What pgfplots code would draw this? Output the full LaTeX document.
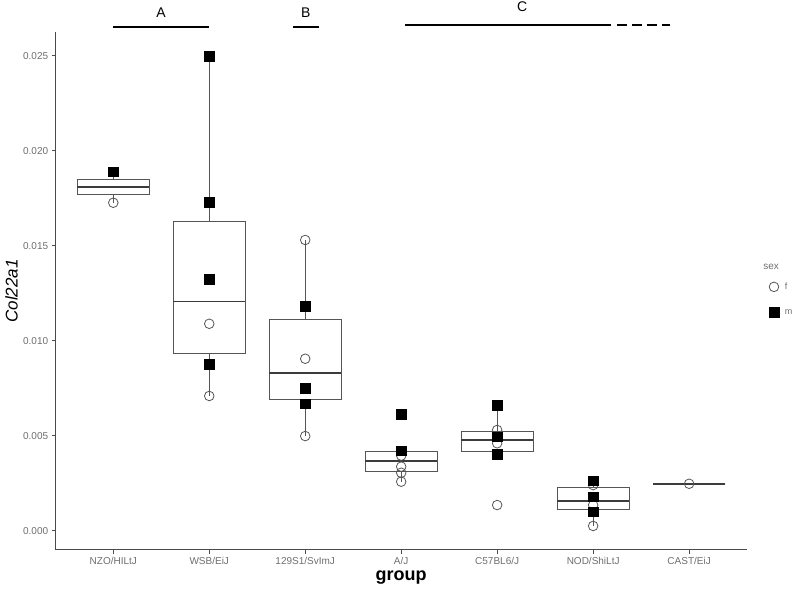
\documentclass[border=0pt]{standalone}
\usepackage{pgfplots}
\pgfplotsset{compat=1.18}
\usepgfplotslibrary{statistics}
\usepackage{fontspec}
\setmainfont{Liberation Sans}
\definecolor{boxc}{HTML}{555555}
\definecolor{tickc}{HTML}{6E6E6E}
\definecolor{axc}{HTML}{4A4A4A}
\begin{document}
\begin{tikzpicture}
\useasboundingbox (0,0) rectangle (800pt,590pt);
\begin{axis}[
  at={(55.7pt,40.5pt)}, anchor=south west,
  scale only axis, width=691pt, height=517pt,
  xmin=-0.6, xmax=6.6, ymin=-0.00099, ymax=0.02622,
  clip=false,
  axis lines*=left, axis line style={-, draw=axc, line width=1pt},
  tick align=outside, major tick length=4pt,
  tick style={draw=axc, line width=0.8pt},
  xtick={0,1,2,3,4,5,6},
  xticklabels={NZO/HILtJ,WSB/EiJ,129S1/SvImJ,A/J,C57BL6/J,NOD/ShiLtJ,CAST/EiJ},
  ytick={0,0.005,0.010,0.015,0.020,0.025},
  yticklabels={0.000,0.005,0.010,0.015,0.020,0.025},
  scaled y ticks=false,
  /pgf/number format/assume math mode=true,
  ticklabel style={font=\fontsize{10}{12}\selectfont, text=tickc},
  xlabel={\textbf{group}}, ylabel={\textit{Col22a1}},
  xlabel style={at={(axis description cs:0.5,-0.054)}, anchor=center, font=\fontsize{18}{20}\selectfont},
  ylabel style={at={(axis description cs:-0.064,0.5)}, anchor=center, font=\fontsize{17}{19}\selectfont},
  boxplot/draw direction=y,
  boxplot/every median/.style={line width=1.8pt, draw=boxc!70!black},
  legend image code/.code={\draw[#1] plot coordinates {(6pt,0pt)}; \path[draw=none,fill=none] (0pt,-5.5pt) rectangle (15pt,5.5pt);},
  legend style={at={(axis description cs:1.0305,0.520)}, anchor=north west, draw=none, fill=none,
    inner xsep=0pt, inner ysep=0pt, row sep=14pt, font=\fontsize{9}{10}\selectfont, text=tickc},
  legend cell align=left,
]
% boxes
\addplot[forget plot, draw=boxc, line width=1pt, boxplot prepared={draw position=0, lower whisker=0.01726, lower quartile=0.01767, median=0.01807, upper quartile=0.01848, upper whisker=0.01889, box extend=0.75, whisker extend=0}] coordinates {};
\addplot[forget plot, draw=boxc, line width=1pt, boxplot prepared={draw position=1, lower whisker=0.00709, lower quartile=0.00930, median=0.01206, upper quartile=0.01628, upper whisker=0.02498, box extend=0.75, whisker extend=0}] coordinates {};
\addplot[forget plot, draw=boxc, line width=1pt, boxplot prepared={draw position=2, lower whisker=0.00498, lower quartile=0.00689, median=0.00828, upper quartile=0.01114, upper whisker=0.01530, box extend=0.75, whisker extend=0}] coordinates {};
\addplot[forget plot, draw=boxc, line width=1pt, boxplot prepared={draw position=3, lower whisker=0.00258, lower quartile=0.00313, median=0.00366, upper quartile=0.00415, upper whisker=0.00421, box extend=0.75, whisker extend=0}] coordinates {};
\addplot[forget plot, draw=boxc, line width=1pt, boxplot prepared={draw position=4, lower whisker=0.00402, lower quartile=0.00417, median=0.004775, upper quartile=0.00521, upper whisker=0.00662, box extend=0.75, whisker extend=0}] coordinates {};
\addplot[forget plot, draw=boxc, line width=1pt, boxplot prepared={draw position=5, lower whisker=0.00025, lower quartile=0.00109, median=0.00157, upper quartile=0.00225, upper whisker=0.00263, box extend=0.75, whisker extend=0}] coordinates {};
\addplot[forget plot, draw=boxc, line width=1pt, boxplot prepared={draw position=6, lower whisker=0.00247, lower quartile=0.00247, median=0.00247, upper quartile=0.00247, upper whisker=0.00247, box extend=0.75, whisker extend=0}] coordinates {};
% points f
\addplot[only marks, mark=o, mark size=4.8pt, mark options={draw=boxc, line width=0.8pt}] table {
x y
0 0.01726
1 0.01089
1 0.00709
2 0.01530
2 0.00905
2 0.00498
3 0.00395
3 0.00337
3 0.00305
3 0.00258
4 0.00530
4 0.00460
4 0.00135
5 0.00240
5 0.00135
5 0.00025
6 0.00247
};
\addlegendentry{f}
% points m
\addplot[only marks, mark=square*, mark size=4.8pt, mark options={draw=black, fill=black}] table {
x y
0 0.01889
1 0.02498
1 0.01730
1 0.01323
1 0.00877
2 0.01183
2 0.00751
2 0.00668
3 0.00613
3 0.00421
4 0.00662
4 0.00495
4 0.00402
5 0.00263
5 0.00179
5 0.00100
};
\addlegendentry{m}
\node[font=\fontsize{10}{12}\selectfont, text=tickc] at (axis cs:6.854,0.01388) {sex};
% significance annotations
\draw[line width=2.5pt] (axis cs:0,0.02650) -- (axis cs:1,0.02650);
\node[font=\fontsize{14}{16}\selectfont] at (axis cs:0.497,0.02725) {A};
\draw[line width=2.5pt] (axis cs:1.875,0.02650) -- (axis cs:2.146,0.02650);
\node[font=\fontsize{14}{16}\selectfont] at (axis cs:2.007,0.02725) {B};
\draw[line width=2.5pt] (axis cs:3.04,0.02661) -- (axis cs:5.19,0.02661);
\draw[line width=2.5pt, dash pattern=on 10pt off 5pt] (axis cs:5.25,0.02661) -- (axis cs:5.80,0.02661);
\node[font=\fontsize{14}{16}\selectfont] at (axis cs:4.26,0.02756) {C};
\end{axis}
\end{tikzpicture}
\end{document}
